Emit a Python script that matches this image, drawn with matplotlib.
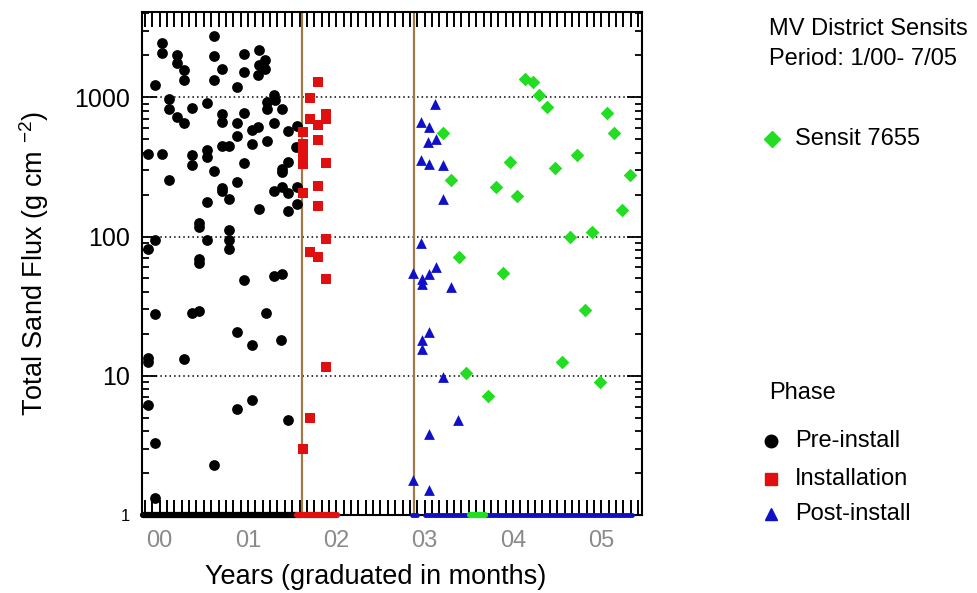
import matplotlib
matplotlib.use("Agg")
import matplotlib.pyplot as plt
from matplotlib.lines import Line2D
from matplotlib.ticker import FixedLocator, MultipleLocator, LogLocator, NullFormatter

plt.rcParams['font.family'] = ['Liberation Sans', 'DejaVu Sans']
plt.rcParams['mathtext.fontset'] = 'custom'
plt.rcParams['mathtext.rm'] = 'Liberation Sans'

# ---------------- data (decimal years, flux g cm^-2) ----------------
pre_x = [2000.62, 2000.03, 2000.03, 2000.20, 2000.62, 2000.95, 2001.12, 2000.20, 2000.28, 2000.71,
         2001.19, 2001.13, 2001.19, 2001.11, 2000.95, 2000.28, 2000.62, 1999.95, 2000.87, 2000.11,
         2000.54, 2001.29, 2001.21, 2001.30, 2001.21, 2001.38, 2000.11, 2000.37, 2000.20, 2000.28,
         2000.71, 2000.71, 2000.95, 2000.87, 2001.29, 2001.11, 2001.04, 2001.04, 2000.87, 2001.21,
         2000.71, 2000.79, 2001.45, 2001.55, 2001.54, 2000.54, 2000.54, 1999.87, 2000.03, 2000.37,
         2000.37, 2000.95, 2001.45, 2001.38, 2001.38, 2000.62, 2000.11, 2000.87, 2000.71, 2000.71,
         2001.29, 2001.38, 2001.45, 2001.55, 2000.79, 2000.54, 2001.55, 2001.45, 2001.12, 2000.45,
         2000.45, 2000.79, 2000.54, 2000.79, 2000.79, 1999.95, 1999.87, 2000.45, 2000.45, 2000.95,
         2001.29, 2001.38, 1999.95, 2000.37, 2000.45, 2001.20, 2000.87, 2001.04, 2001.37, 1999.87,
         1999.87, 2000.28, 1999.87, 2000.87, 2001.04, 2001.45, 1999.95, 2000.62, 1999.95]
pre_y = [2750, 2475, 2083, 2005, 1983, 2062, 2179, 1762, 1565, 1609,
         1846, 1698, 1607, 1439, 1521, 1324, 1340, 1219, 1186, 979,
         916, 1038, 925, 951, 829, 829, 820, 844, 722, 653,
         755, 664, 776, 657, 653, 611, 579, 464, 524, 482,
         444, 444, 569, 618, 439, 421, 372, 389, 389, 383,
         328, 337, 342, 304, 290, 295, 253, 246, 223, 211,
         212, 226, 205, 226, 187, 177, 172, 152, 158, 125,
         117, 112, 94, 94, 82, 94, 82, 69.5, 65, 49,
         52.4, 54, 27.8, 28.3, 29, 28.3, 20.5, 16.6, 18.2, 13.4,
         12.5, 13.3, 6.15, 5.8, 6.7, 4.8, 3.28, 2.29, 1.33]

inst_x = [2001.79, 2001.70, 2001.70, 2001.79, 2001.88, 2001.88, 2001.62, 2001.79, 2001.62, 2001.62,
          2001.62, 2001.62, 2001.88, 2001.79, 2001.62, 2001.79, 2001.88, 2001.70, 2001.79, 2001.88,
          2001.88, 2001.70, 2001.62]
inst_y = [1288, 995, 703, 629, 763, 703, 563, 491, 464, 415,
          370, 330, 337, 229, 205, 167, 96, 77, 71, 49.6,
          11.6, 4.96, 2.97]

post_x = [2003.12, 2002.96, 2003.05, 2003.04, 2003.13, 2002.96, 2003.05, 2003.21, 2003.21, 2002.96,
          2002.87, 2002.97, 2002.97, 2003.05, 2003.13, 2003.30, 2003.05, 2002.97, 2002.97, 2003.21,
          2003.38, 2003.05, 2002.87, 2003.05]
post_y = [901, 664, 611, 477, 504, 352, 330, 325, 187, 89.5,
          54.5, 49.6, 45.7, 54, 60.9, 43.7, 20.7, 18.1, 15.7, 9.72,
          4.80, 3.85, 1.78, 1.51]

sensit_x = [2003.21, 2003.30, 2003.39, 2003.47, 2003.72, 2003.81, 2003.89, 2003.97, 2004.05, 2004.14,
            2004.23, 2004.30, 2004.38, 2004.47, 2004.56, 2004.64, 2004.72, 2004.81, 2004.89, 2004.98,
            2005.06, 2005.14, 2005.23, 2005.32]
sensit_y = [553, 256, 71, 10.5, 7.1, 226, 54.5, 343, 197, 1347,
            1288, 1045, 851, 310, 12.6, 99, 383, 29.7, 107, 9.06,
            771, 557, 154, 275]

# periods of zero flux (plotted on the y = 1 baseline)
zero_start = [1999.81, 2001.56, 2002.86, 2003.00, 2003.51]
zero_end = [2001.55, 2002.01, 2002.91, 2005.35, 2003.68]
zero_phase = ['pre', 'inst', 'post', 'post', 'sensit']

phase_lines = [2001.61, 2002.88]
year_ticks = [2000, 2001, 2002, 2003, 2004, 2005]
year_labels = ['00', '01', '02', '03', '04', '05']
y_ticks = [1, 10, 100, 1000]
y_labels = ['1', '10', '100', '1000']

# ---------------- styling ----------------
col = {'pre': 'black', 'inst': '#e01010', 'post': '#1010c8', 'sensit': '#22dd22'}
brown = '#9c7a4c'

fig = plt.figure(figsize=(9.78, 5.93), dpi=100)
ax = fig.add_axes([0.1452, 0.1315, 0.5112, 0.8483])

ax.set_yscale('log')
ax.set_ylim(1, 4100)
ax.set_xlim(1999.80, 2005.46)

# grid lines (dotted) at decades
for v in [10, 100, 1000]:
    ax.axhline(v, color='black', linestyle=(0, (1, 2)), linewidth=1.1, zorder=1)

for xv in phase_lines:
    ax.axvline(xv, color=brown, linewidth=1.6, zorder=2)

# zero-flux baseline bands
for s, e, p in zip(zero_start, zero_end, zero_phase):
    lw = 3.5 if p == 'post' else 4.5
    ax.plot([s, e], [1, 1], color=col[p], linewidth=lw, solid_capstyle='round',
            zorder=5, clip_on=False)

ax.scatter(pre_x, pre_y, s=60, marker='o', color=col['pre'], zorder=4, linewidths=0)
ax.scatter(inst_x, inst_y, s=48, marker='s', color=col['inst'], zorder=4, linewidths=0)
ax.scatter(post_x, post_y, s=60, marker='^', color=col['post'], zorder=4, linewidths=0)
ax.scatter(sensit_x, sensit_y, s=48, marker='D', color=col['sensit'], zorder=4, linewidths=0)

# axes ticks
ax.xaxis.set_major_locator(FixedLocator(year_ticks))
ax.set_xticklabels(year_labels, color='#8a8a8a', fontsize=17)
ax.xaxis.set_minor_locator(MultipleLocator(1 / 12))
ax.tick_params(axis='x', which='both', direction='in', top=True, bottom=True,
               length=11, width=1.4, pad=11)

ax.yaxis.set_major_locator(FixedLocator(y_ticks))
ax.set_yticklabels(y_labels, fontsize=18)
ax.get_yticklabels()[0].set_fontsize(12)
ax.yaxis.set_minor_locator(LogLocator(base=10, subs=[2, 3, 4, 5, 6, 7, 8, 9]))
ax.yaxis.set_minor_formatter(NullFormatter())
ax.tick_params(axis='y', which='major', direction='in', left=True, right=True,
               length=11, width=1.3, pad=9)
ax.tick_params(axis='y', which='minor', direction='in', left=True, right=True,
               length=5, width=1.3)

for sp in ax.spines.values():
    sp.set_linewidth(1.5)

ax.set_xlabel('Years (graduated in months)', fontsize=19.5)
ax.xaxis.set_label_coords(0.468, -0.098)
ax.set_ylabel(r'Total Sand Flux (g cm $^{\mathregular{-2}}$)', fontsize=19.5, labelpad=16)

# ---------------- right-hand annotations / legends ----------------
def fx(px):
    return px / 978

def fy(py):
    return 1 - py / 593

fs = 17
fig.text(fx(769), fy(29), 'MV District Sensits', fontsize=fs, va='center', ha='left')
fig.text(fx(769), fy(59), 'Period: 1/00- 7/05', fontsize=fs, va='center', ha='left')

fig.add_artist(Line2D([fx(772)], [fy(139)], marker='D', color=col['sensit'],
                      markersize=8, linestyle='none', transform=fig.transFigure))
fig.text(fx(795), fy(139), 'Sensit 7655', fontsize=fs, va='center', ha='left')

fig.text(fx(769), fy(393), 'Phase', fontsize=fs, va='center', ha='left')
entries = [('o', col['pre'], 'Pre-install', 441, 9),
           ('s', col['inst'], 'Installation', 479, 8),
           ('^', col['post'], 'Post-install', 514, 8)]
for m, c, lab, py, ms in entries:
    fig.add_artist(Line2D([fx(771)], [fy(py)], marker=m, color=c, markersize=ms,
                          linestyle='none', transform=fig.transFigure))
    fig.text(fx(795), fy(py), lab, fontsize=fs, va='center', ha='left')

fig.savefig('out.png', dpi=100)
